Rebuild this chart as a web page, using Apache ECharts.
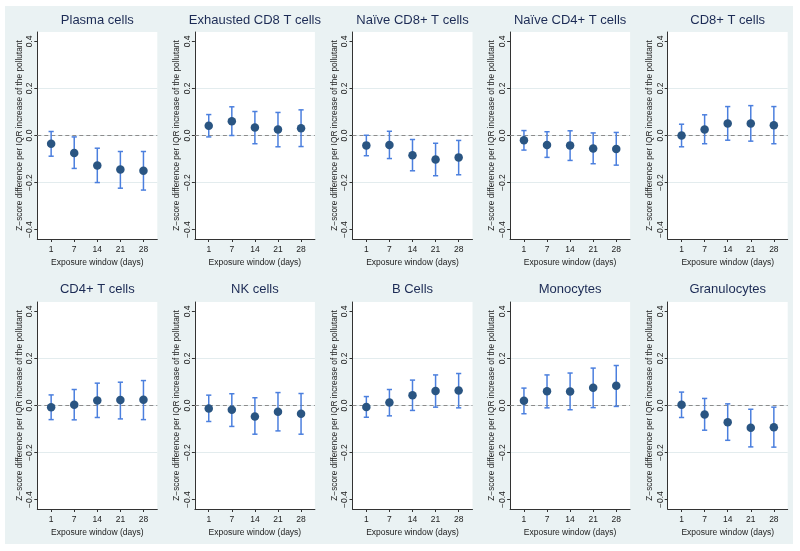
<!DOCTYPE html>
<html><head><meta charset="utf-8">
<script src="https://cdn.jsdelivr.net/npm/echarts@6/dist/echarts.min.js"></script>
<style>
html,body{margin:0;padding:0;background:#fff;width:800px;height:551px;overflow:hidden}
#c{position:absolute;left:5px;top:6px;width:788px;height:538px;}
</style></head>
<body><div id="c"></div>
<script>
// ---- data ----
const windows = ['1', '7', '14', '21', '28'];
const yTicks = [-0.4, -0.2, 0, 0.2, 0.4];
const panelTitles = ['Plasma cells', 'Exhausted CD8 T cells', 'Naïve CD8+ T cells', 'Naïve CD4+ T cells', 'CD8+ T cells',
                     'CD4+ T cells', 'NK cells', 'B Cells', 'Monocytes', 'Granulocytes'];
const xTitle = 'Exposure window (days)';
const yTitle = 'Z\u2212score difference per IQR increase of the pollutant';

const plasmaEst = [-0.035, -0.074, -0.128, -0.145, -0.150];
const plasmaLo  = [-0.088, -0.140, -0.200, -0.224, -0.232];
const plasmaHi  = [ 0.017, -0.006, -0.054, -0.068, -0.068];

const exhCD8Est = [0.041, 0.061, 0.034, 0.025, 0.031];
const exhCD8Lo  = [-0.006, 0.000, -0.035, -0.048, -0.047];
const exhCD8Hi  = [0.089, 0.122, 0.102, 0.098, 0.109];

const naiveCD8Est = [-0.042, -0.040, -0.084, -0.102, -0.093];
const naiveCD8Lo  = [-0.086, -0.098, -0.150, -0.171, -0.167];
const naiveCD8Hi  = [0.001, 0.018, -0.017, -0.033, -0.021];

const naiveCD4Est = [-0.020, -0.040, -0.042, -0.055, -0.057];
const naiveCD4Lo  = [-0.062, -0.093, -0.106, -0.120, -0.126];
const naiveCD4Hi  = [0.021, 0.016, 0.020, 0.011, 0.013];

const cd8Est = [0.000, 0.025, 0.051, 0.051, 0.044];
const cd8Lo  = [-0.048, -0.035, -0.020, -0.024, -0.035];
const cd8Hi  = [0.048, 0.088, 0.123, 0.127, 0.123];

const cd4Est = [-0.007, 0.003, 0.021, 0.023, 0.024];
const cd4Lo  = [-0.060, -0.061, -0.051, -0.057, -0.060];
const cd4Hi  = [0.045, 0.068, 0.095, 0.099, 0.106];

const nkEst = [-0.013, -0.018, -0.047, -0.027, -0.035];
const nkLo  = [-0.068, -0.089, -0.122, -0.108, -0.122];
const nkHi  = [0.044, 0.050, 0.033, 0.055, 0.051];

const bEst = [-0.006, 0.013, 0.044, 0.062, 0.064];
const bLo  = [-0.050, -0.044, -0.021, -0.007, -0.010];
const bHi  = [0.038, 0.068, 0.108, 0.130, 0.136];

const monoEst = [0.020, 0.061, 0.060, 0.075, 0.084];
const monoLo  = [-0.035, -0.010, -0.018, -0.009, -0.004];
const monoHi  = [0.074, 0.130, 0.138, 0.159, 0.170];

const granEst = [0.003, -0.038, -0.071, -0.095, -0.092];
const granLo  = [-0.051, -0.105, -0.148, -0.176, -0.177];
const granHi  = [0.057, 0.030, 0.007, -0.016, -0.007];

const panelEst = [plasmaEst, exhCD8Est, naiveCD8Est, naiveCD4Est, cd8Est, cd4Est, nkEst, bEst, monoEst, granEst];
const panelLo  = [plasmaLo, exhCD8Lo, naiveCD8Lo, naiveCD4Lo, cd8Lo, cd4Lo, nkLo, bLo, monoLo, granLo];
const panelHi  = [plasmaHi, exhCD8Hi, naiveCD8Hi, naiveCD4Hi, cd8Hi, cd4Hi, nkHi, bHi, monoHi, granHi];

// ---- styling / layout ----
const FONT = '"Liberation Sans", Arial, sans-serif';
const bg = '#eaf2f3';
const errColor = '#4b7fde';
const ptColor = '#2a5582';
const axisColor = '#333';
const colLeft0 = 32.3, colStep = 157.6, plotW = 120;
const rowTops = [26, 296], plotH = 207;
const titleCY = [15, 284.5];

const grids = [], xAxes = [], yAxes = [], series = [], titles = [];
const xIdx = windows.map((w, i) => i);

for (let p = 0; p < 10; p++) {
  const r = Math.floor(p / 5), c = p % 5;
  const left = colLeft0 + c * colStep;
  grids.push({left: left, top: rowTops[r], width: plotW, height: plotH,
    show: true, backgroundColor: '#fff', borderWidth: 0, containLabel: false});
  titles.push({text: panelTitles[p], left: left + plotW / 2, top: titleCY[r] - 7.5,
    textAlign: 'center', padding: 0,
    textStyle: {fontFamily: FONT, fontSize: 13, fontWeight: 'normal', color: '#1c2b55'}});
  xAxes.push({type: 'value', gridIndex: p, min: -0.6, max: 4.6,
    name: xTitle, nameLocation: 'middle', nameGap: 19,
    nameTextStyle: {fontFamily: FONT, fontSize: 8.5, color: '#222'},
    axisLine: {show: true, onZero: false, lineStyle: {color: axisColor, width: 1}},
    axisTick: {show: true, length: 3, customValues: xIdx, lineStyle: {color: axisColor}},
    axisLabel: {customValues: xIdx, margin: 6, fontFamily: FONT, fontSize: 8.5, color: '#222',
      formatter: v => windows[Math.round(v)]},
    splitLine: {show: false}});
  yAxes.push({type: 'value', gridIndex: p, min: -0.44, max: 0.44,
    name: yTitle, nameLocation: 'middle', nameGap: 14, nameRotate: 90,
    nameTextStyle: {fontFamily: FONT, fontSize: 8.3, color: '#222'},
    axisLine: {show: true, onZero: false, lineStyle: {color: axisColor, width: 1}},
    axisTick: {show: true, length: 3, customValues: yTicks, lineStyle: {color: axisColor}},
    axisLabel: {customValues: yTicks, rotate: 90, margin: 3, fontFamily: FONT, fontSize: 8.5, color: '#222',
      formatter: v => (v < -1e-9 ? '\u2212' : '') + Math.abs(v).toFixed(1)},
    splitLine: {show: true, showMinLine: false, showMaxLine: false, lineStyle: {color: '#e3ecee', width: 1}}});

  const errData = xIdx.map(i => [i, panelLo[p][i], panelHi[p][i]]);
  series.push({type: 'custom', xAxisIndex: p, yAxisIndex: p, data: errData,
    encode: {x: 0, y: [1, 2]}, z: 3, silent: true,
    renderItem: function (params, api) {
      const x = api.value(0);
      const a = api.coord([x, api.value(1)]);
      const b = api.coord([x, api.value(2)]);
      const w = 2.6;
      const style = {stroke: errColor, lineWidth: 1.5};
      return {type: 'group', children: [
        {type: 'line', shape: {x1: a[0], y1: a[1], x2: b[0], y2: b[1]}, style: style},
        {type: 'line', shape: {x1: a[0] - w, y1: a[1], x2: a[0] + w, y2: a[1]}, style: style},
        {type: 'line', shape: {x1: b[0] - w, y1: b[1], x2: b[0] + w, y2: b[1]}, style: style}
      ]};
    }});
  series.push({type: 'scatter', xAxisIndex: p, yAxisIndex: p, z: 4,
    data: xIdx.map(i => [i, panelEst[p][i]]),
    symbol: 'circle', symbolSize: 8.5, itemStyle: {color: ptColor, opacity: 1},
    markLine: {silent: true, symbol: 'none', label: {show: false}, z: 2,
      lineStyle: {type: [4, 3], color: '#8c8c8c', width: 1},
      data: [{yAxis: 0}]}});
}

const chart = echarts.init(document.getElementById('c'), null, {renderer: 'canvas'});
chart.setOption({
  backgroundColor: bg,
  animation: false,
  title: titles,
  grid: grids,
  xAxis: xAxes,
  yAxis: yAxes,
  series: series
});
</script>
</body></html>
